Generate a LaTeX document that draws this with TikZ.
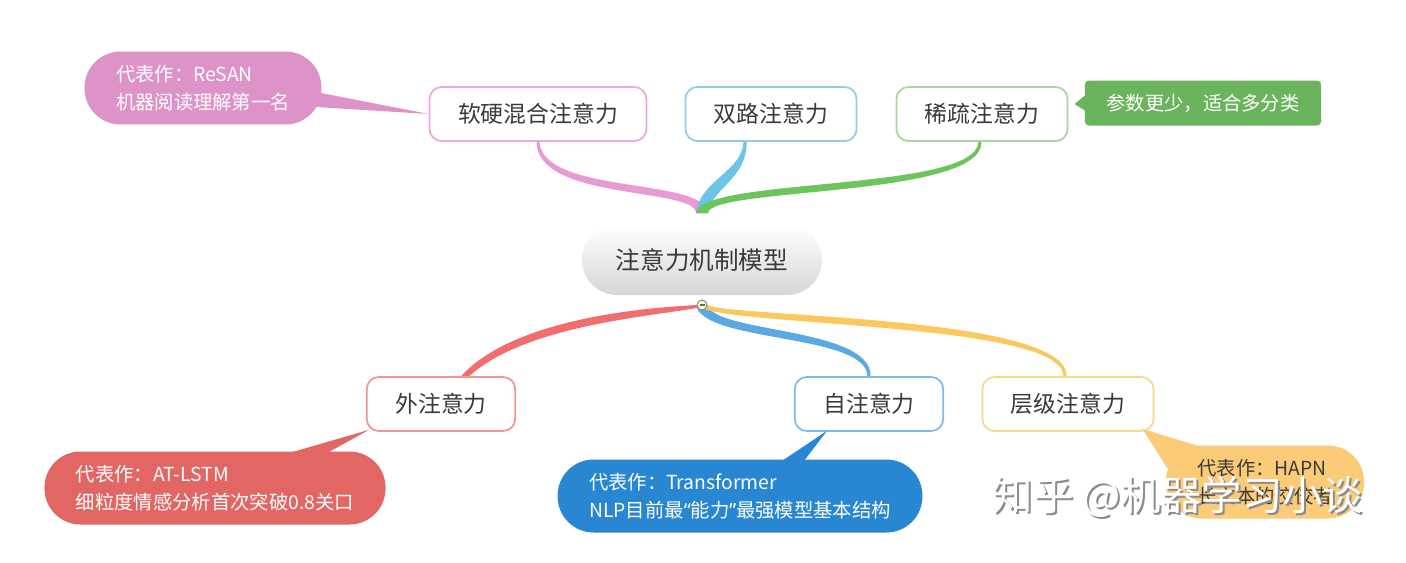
\documentclass[tikz,border=0pt]{standalone}
\usepackage{fontspec}
\setmainfont{Noto Sans CJK SC}
\newfontfamily\quotefont{Noto Sans}
\usetikzlibrary{calc,backgrounds}

\definecolor{ink}{HTML}{3A3A3A}
\definecolor{pinkline}{HTML}{E89BD3}
\definecolor{pinkedge}{HTML}{EBA9DA}
\definecolor{pinknote}{HTML}{DD93C8}
\definecolor{skyline}{HTML}{6DC3E8}
\definecolor{skyedge}{HTML}{92CCE8}
\definecolor{greenline}{HTML}{6CC55C}
\definecolor{greenedge}{HTML}{A5D99B}
\definecolor{greennote}{HTML}{6BB35C}
\definecolor{redline}{HTML}{F26D6D}
\definecolor{rededge}{HTML}{F09595}
\definecolor{rednote}{HTML}{E16664}
\definecolor{blueline}{HTML}{5BA9E2}
\definecolor{blueedge}{HTML}{7CBBEA}
\definecolor{bluenote}{HTML}{2986D2}
\definecolor{yellowline}{HTML}{FBC85E}
\definecolor{yellowedge}{HTML}{F8D98C}
\definecolor{yellownote}{HTML}{FBCB78}

% tapered branch: colour, start, control 1, control 2, end, offset 1, offset 2
\newcommand\limb[7]{%
  \fill[#1] ($(#2)+(-6,0)$) .. controls ($(#3)-(#6)$) and ($(#4)-(#7)$) .. ($(#5)+(-1.5,0)$)
    -- ($(#5)+(1.5,0)$) .. controls ($(#4)+(#7)$) and ($(#3)+(#6)$) .. ($(#2)+(6,0)$) -- cycle;}

\begin{document}
\begin{tikzpicture}
        [x=0.02cm,y=-0.02cm,
        every node/.style={font=\fontsize{13}{15}\selectfont,text=ink},
        root/.style={rectangle,rounded corners=0.7cm,top color=white,middle color=white,bottom color=black!16,minimum width=4.8cm,minimum height=1.4cm,font=\fontsize{14}{16}\selectfont},
        topic/.style={rectangle,rounded corners=0.24cm,fill=white,line width=1pt,inner xsep=0.57cm,minimum height=1.08cm},
        note/.style={rectangle,rounded corners=0.72cm,minimum height=1.46cm,inner xsep=0.63cm,align=left,text=white,font=\fontsize{11}{16}\selectfont},
        tag/.style={rectangle,rounded corners=0.08cm,minimum height=0.9cm,inner xsep=0.43cm,text=white,font=\fontsize{11}{13}\selectfont},
        watermark/.style={font=\fontsize{23}{25}\selectfont},
        ]
        \useasboundingbox (0,0) rectangle (1406,562);

        \node[root] (root) at (702,260) {注意力机制模型};
        \coordinate (hub-top) at (702,213);
        \coordinate (hub-bottom) at (702,305);

        \node[topic,draw=pinkedge] (topic-1) at (538,114) {软硬混合注意力};
        \node[topic,draw=skyedge] (topic-2) at (771,114) {双路注意力};
        \node[topic,draw=greenedge] (topic-3) at (982,114) {稀疏注意力};
        \node[topic,draw=rededge] (topic-4) at (441,404) {外注意力};
        \node[topic,draw=blueedge] (topic-5) at (869,404) {自注意力};
        \node[topic,draw=yellowedge] (topic-6) at (1068,404) {层级注意力};

        \node[note,fill=pinknote] (note-1) at (203,88) {代表作：ReSAN\\机器阅读理解第一名};
        \node[tag,fill=greennote] (note-2) at (1203,103) {参数更少，适合多分类};
        \node[note,fill=rednote] (note-3) at (215,488) {代表作：AT-LSTM\\细粒度情感分析首次突破0.8关口};
        \node[note,fill=bluenote] (note-4) at (740,496) {代表作：Transformer\\NLP目前最{\quotefont “}能力{\quotefont ”}最强模型基本结构};
        \node[note,fill=yellownote,text=ink] (note-5) at (1265,482) {代表作：HAPN\\长文本的佼佼者};

        \begin{pgfonlayer}{background}
            \limb{pinkline}{hub-top}{700,182}{540,198}{topic-1.south}{5,-5}{3,-3}
            \limb{skyline}{hub-top}{705,185}{745,175}{$(topic-2.south)+(-26,0)$}{5,5}{3,3}
            \limb{greenline}{hub-top}{705,182}{980,195}{$(topic-3.south)+(-2,0)$}{5,5}{3,3}
            \limb{redline}{hub-bottom}{675,312}{441,318}{topic-4.south}{5,5}{3,3}
            \limb{blueline}{hub-bottom}{708,338}{869,330}{topic-5.north}{5,-5}{3,-3}
            \limb{yellowline}{hub-bottom}{720,322}{1066,318}{$(topic-6.north)+(-3,0)$}{5,-5}{3,-3}
        \end{pgfonlayer}
        \fill[pinknote] ($(note-1.east)+(-6,4)$) -- (topic-1.west) -- ($(note-1.east)+(-6,19)$) -- cycle;
        \fill[greennote] ($(note-2.west)+(1,-8)$) -- ($(topic-3.east)+(6,-10)$) -- ($(note-2.west)+(1,8)$) -- cycle;
        \fill[rednote] ($(note-3.north)+(70,3)$) -- ($(topic-4.south west)+(3,-2)$) -- ($(note-3.north)+(110,3)$) -- cycle;
        \fill[bluenote] ($(note-4.north)+(40,3)$) -- ($(topic-5.south)+(-42,-1)$) -- ($(note-4.north)+(63,3)$) -- cycle;
        \fill[yellownote] ($(note-5.north west)+(3,25)$) -- ($(topic-6.south east)+(-12,-3)$) -- ($(note-5.north west)+(40,3)$) -- cycle;

        \draw[fill=green!15!yellow!25,draw=black!45,line width=0.6pt] (hub-bottom) circle (5);
        \draw[black!60,line width=0.8pt] ($(hub-bottom)+(-2.5,0)$) -- ($(hub-bottom)+(2.5,0)$);

        \node[watermark,text=black!45] (watermark-shade) at (1180,499) {知乎 @机器学习小谈};
        \node[watermark,text=white] (watermark-text) at (1178,497) {知乎 @机器学习小谈};
    \end{tikzpicture}
\end{document}
